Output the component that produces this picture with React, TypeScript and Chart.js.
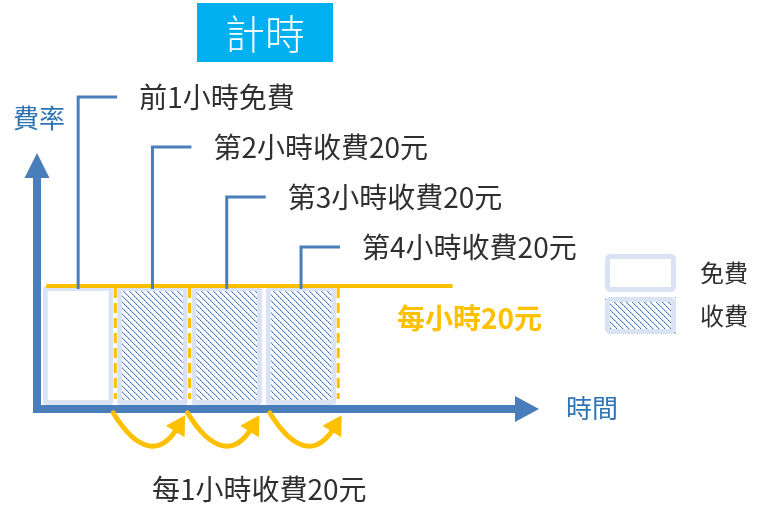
import { useEffect, useRef } from 'react';
import { Chart, registerables } from 'chart.js';

Chart.register(...registerables);

// ---- data ----
const hours = [1, 2, 3, 4];
const hourLabels = ['前1小時免費', '第2小時收費20元', '第3小時收費20元', '第4小時收費20元'];
const hourFees = [0, 20, 20, 20];
const barLevels = [20, 20, 20, 20];
const hourlyRate = 20;
const rateLineHours = [0.07, 5.54];
const rateLabel = '每小時20元';
const dashedBoundaries = [1, 2, 4];
const arrowFrom = [1, 2, 3];
const arrowTo = [2, 3, 4];
const legendLabels = ['免費', '收費'];
const titleText = '計時';
const yAxisTitle = '費率';
const xAxisTitle = '時間';
const bottomNote = '每1小時收費20元';

const FONT = '"Noto Sans CJK TC", "Noto Sans", sans-serif';
const AXIS_BLUE = '#4A7EBB';
const TEXT_BLUE = '#2E75B6';
const YELLOW = '#FFC000';
const BORDER_BLUE = '#DAE3F3';
const TEXT_DARK = '#2F2F2F';

function makeHatch(): CanvasPattern | string {
  const c = document.createElement('canvas');
  c.width = 6;
  c.height = 6;
  const g = c.getContext('2d');
  if (!g) return '#8FAADC';
  g.fillStyle = '#FFFFFF';
  g.fillRect(0, 0, 6, 6);
  for (let i = 0; i < 6; i++) {
    g.fillStyle = i % 2 ? '#7399D6' : '#3F6FBF';
    g.fillRect(i, i, 1, 1);
    g.fillStyle = 'rgba(120,158,215,0.4)';
    g.fillRect((i + 1) % 6, i, 1, 1);
  }
  const p = g.createPattern(c, 'repeat');
  return p || '#8FAADC';
}

function tri(ctx: CanvasRenderingContext2D, pts: number[][]) {
  ctx.beginPath();
  ctx.moveTo(pts[0][0], pts[0][1]);
  for (let i = 1; i < pts.length; i++) ctx.lineTo(pts[i][0], pts[i][1]);
  ctx.closePath();
  ctx.fill();
}

export default function App() {
  const ref = useRef<HTMLCanvasElement | null>(null);

  useEffect(() => {
    if (!ref.current) return;
    const hatch = makeHatch();

    const diagram = {
      id: 'diagram',
      beforeDatasetsDraw(chart: any) {
        const ctx: CanvasRenderingContext2D = chart.ctx;
        const X = (v: number) => chart.scales.x.getPixelForValue(v);
        const Y = (v: number) => chart.scales.y.getPixelForValue(v);
        ctx.save();
        // title box
        ctx.fillStyle = '#00B0F0';
        ctx.fillRect(197, 3, 136, 59);
        ctx.fillStyle = '#FFFFFF';
        ctx.font = `300 40px ${FONT}`;
        ctx.textAlign = 'center';
        ctx.textBaseline = 'middle';
        ctx.fillText(titleText, 265, 34);

        // axes
        const ax = X(0) - 4;
        const ay = Y(0) + 4;
        ctx.fillStyle = AXIS_BLUE;
        ctx.fillRect(ax - 4, 176, 8, ay + 4 - 176);
        tri(ctx, [[ax, 153], [ax - 12.5, 178], [ax + 12.5, 178]]);
        ctx.fillRect(ax - 4, ay - 4, 517 - (ax - 4), 8);
        tri(ctx, [[539, ay], [515, ay - 13], [515, ay + 13]]);

        ctx.font = `26px ${FONT}`;
        ctx.fillStyle = TEXT_BLUE;
        ctx.textAlign = 'left';
        ctx.fillText(yAxisTitle, 13, 118);
        ctx.fillText(xAxisTitle, 566, 408);
        ctx.restore();
      },
      afterDatasetsDraw(chart: any) {
        const ctx: CanvasRenderingContext2D = chart.ctx;
        const X = (v: number) => chart.scales.x.getPixelForValue(v);
        const Y = (v: number) => chart.scales.y.getPixelForValue(v);
        ctx.save();

        // dashed hour boundaries
        ctx.strokeStyle = YELLOW;
        ctx.lineWidth = 3;
        ctx.setLineDash([10, 5]);
        dashedBoundaries.forEach((b) => {
          ctx.beginPath();
          ctx.moveTo(X(b), Y(hourlyRate) + 2);
          ctx.lineTo(X(b), Y(0) - 6);
          ctx.stroke();
        });
        ctx.setLineDash([]);

        // callouts
        ctx.textAlign = 'left';
        ctx.textBaseline = 'middle';
        hours.forEach((h, i) => {
          const cx = X(h - 0.5);
          const top = 97 + i * 50;
          ctx.strokeStyle = AXIS_BLUE;
          ctx.lineWidth = 3;
          ctx.beginPath();
          ctx.moveTo(cx, Y(barLevels[i]) + 3);
          ctx.lineTo(cx, top);
          ctx.lineTo(cx + 39, top);
          ctx.stroke();
          ctx.fillStyle = TEXT_DARK;
          ctx.font = `28px ${FONT}`;
          ctx.fillText(hourLabels[i], cx + 61, top);
        });

        // rate label
        ctx.fillStyle = YELLOW;
        ctx.font = `bold 28px ${FONT}`;
        ctx.fillText(rateLabel, 397, 318);

        // legend
        const boxes = [[605, 254, 71, 38], [605, 297, 71, 37]];
        boxes.forEach((b, i) => {
          ctx.fillStyle = i === 0 ? '#FFFFFF' : (hatch as any);
          ctx.fillRect(b[0], b[1], b[2], b[3]);
          ctx.strokeStyle = BORDER_BLUE;
          ctx.lineWidth = 5;
          ctx.beginPath();
          (ctx as any).roundRect(b[0] + 2.5, b[1] + 2.5, b[2] - 5, b[3] - 5, 3);
          ctx.stroke();
          ctx.fillStyle = TEXT_DARK;
          ctx.font = `24px ${FONT}`;
          ctx.fillText(legendLabels[i], 700, b[1] + b[3] / 2);
        });

        // curved arrows
        const shifts = [-2, -2, 6];
        arrowFrom.forEach((f, i) => {
          const x0 = X(f) + shifts[i];
          const y0 = 413;
          const span = X(arrowTo[i]) - X(f);
          const k = span / 74.3;
          const end = [x0 + 64 * k, 428];
          const cp1 = [x0 + 24 * k, 452];
          const cp2 = [x0 + 47 * k, 456];
          ctx.strokeStyle = YELLOW;
          ctx.lineWidth = 5;
          ctx.lineCap = 'round';
          ctx.beginPath();
          ctx.moveTo(x0, y0);
          ctx.bezierCurveTo(cp1[0], cp1[1], cp2[0], cp2[1], end[0], end[1]);
          ctx.stroke();
          let dx = end[0] - cp2[0];
          let dy = end[1] - cp2[1];
          const len = Math.hypot(dx, dy);
          dx /= len;
          dy /= len;
          const tip = [end[0] + dx * 15, end[1] + dy * 15];
          const base = [end[0] - dx * 4, end[1] - dy * 4];
          const nx = -dy;
          const ny = dx;
          ctx.fillStyle = YELLOW;
          tri(ctx, [tip, [base[0] + nx * 11, base[1] + ny * 11], [base[0] - nx * 11, base[1] - ny * 11]]);
        });

        // bottom note
        ctx.fillStyle = TEXT_DARK;
        ctx.font = `28px ${FONT}`;
        ctx.fillText(bottomNote, 152, 489);
        ctx.restore();
      },
    };

    const chart = new Chart(ref.current, {
      type: 'bar',
      data: {
        datasets: [
          {
            type: 'line',
            label: rateLabel,
            data: rateLineHours.map((h) => ({ x: h, y: hourlyRate })),
            borderColor: YELLOW,
            borderWidth: 4,
            pointRadius: 0,
            order: 0,
          } as any,
          {
            type: 'bar',
            label: '費用',
            data: hours.map((h, i) => ({ x: h - 0.5, y: barLevels[i] })),
            backgroundColor: hourFees.map((f) => (f > 0 ? hatch : '#FFFFFF')),
            borderColor: BORDER_BLUE,
            borderWidth: 5,
            borderRadius: 3,
            borderSkipped: false,
            barPercentage: 0.95,
            categoryPercentage: 1,
            order: 1,
          } as any,
        ],
      },
      options: {
        animation: false,
        responsive: true,
        maintainAspectRatio: false,
        layout: { padding: 0 },
        events: [],
        scales: {
          x: { type: 'linear', min: -0.552, max: 9.637, display: false, offset: false },
          y: { type: 'linear', min: -17.31, max: 68.07, display: false },
        },
        plugins: {
          legend: { display: false },
          tooltip: { enabled: false },
          title: { display: false },
        },
      },
      plugins: [diagram],
    });
    return () => chart.destroy();
  }, []);

  return (
    <div style={{ position: 'absolute', left: 0, top: 0, width: 757, height: 508, background: '#FFFFFF' }}>
      <canvas ref={ref} />
    </div>
  );
}
